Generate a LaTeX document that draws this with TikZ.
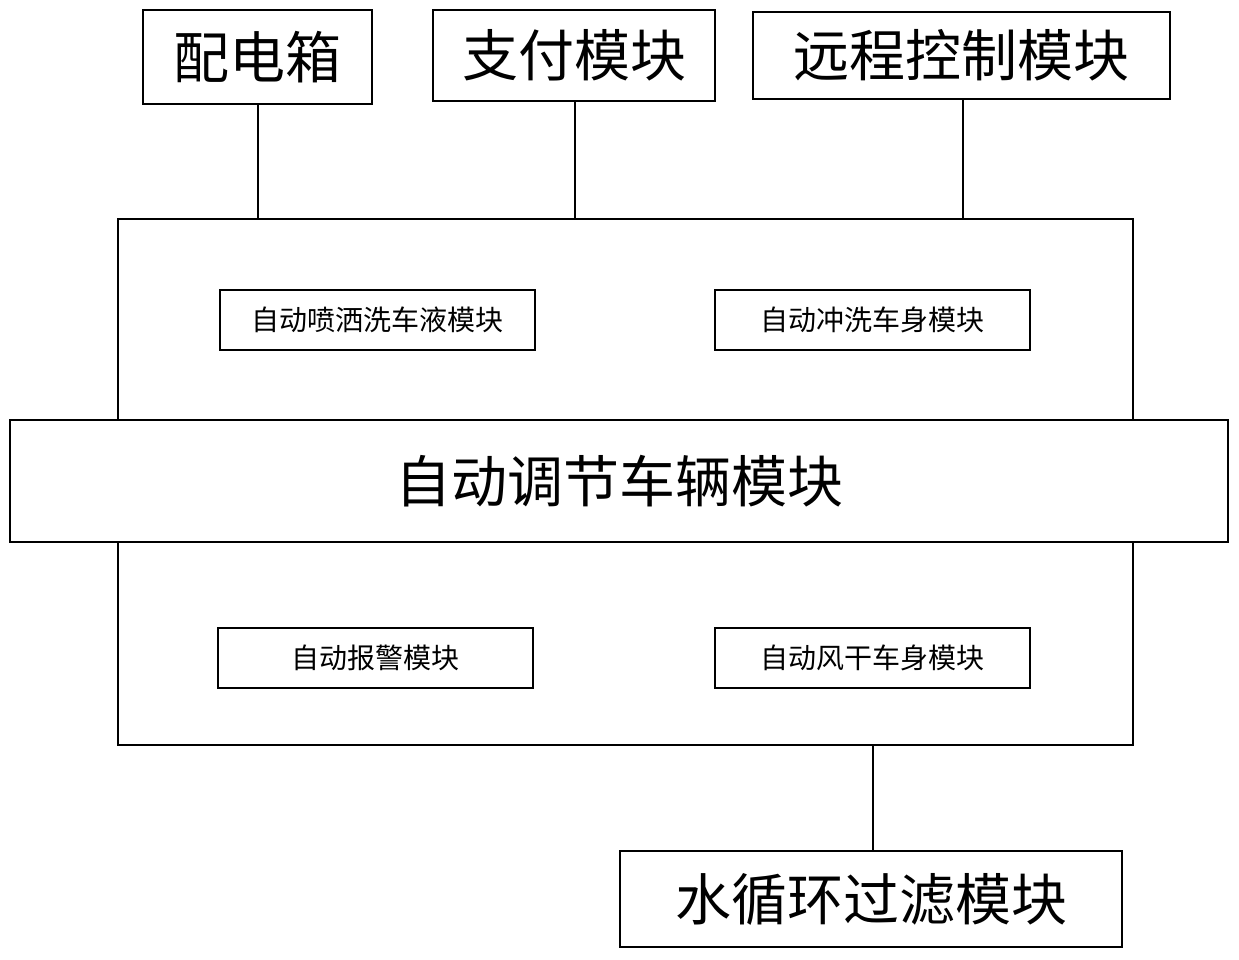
\documentclass[tikz,border=0pt]{standalone}
\usepackage{fontspec}
\newfontfamily\cjk{Noto Sans CJK SC}
\begin{document}
\begin{tikzpicture}[x=1pt,y=-1pt,
 box/.style={draw,line width=1.5pt,fill=white},
 big/.style={font=\cjk\fontsize{56}{60}\selectfont},
 small/.style={font=\cjk\fontsize{28}{32}\selectfont},
 ln/.style={line width=1.5pt}]
\useasboundingbox (0,0) rectangle (1239,959);
\draw[box] (118,219) rectangle (1133,745);
\node[box,big,minimum width=1218pt,minimum height=122pt,inner sep=0pt] (mid) at (619,481) {自动调节车辆模块};
\node[box,big,minimum width=229pt,minimum height=94pt,inner sep=0pt] (pd) at (257.5,57) {配电箱};
\node[box,big,minimum width=282pt,minimum height=91pt,inner sep=0pt] (zf) at (574,55.5) {支付模块};
\node[box,big,minimum width=417pt,minimum height=87pt,inner sep=0pt] (yc) at (961.5,55.5) {远程控制模块};
\node[box,big,minimum width=502pt,minimum height=96pt,inner sep=0pt] (sx) at (871,899) {水循环过滤模块};
\node[box,small,minimum width=315pt,minimum height=60pt,inner sep=0pt] (a) at (377.5,320) {自动喷洒洗车液模块};
\node[box,small,minimum width=315pt,minimum height=60pt,inner sep=0pt] (b) at (872.5,320) {自动冲洗车身模块};
\node[box,small,minimum width=315pt,minimum height=60pt,inner sep=0pt] (c) at (375.5,658) {自动报警模块};
\node[box,small,minimum width=315pt,minimum height=60pt,inner sep=0pt] (d) at (872.5,658) {自动风干车身模块};
\coordinate (t1) at (258,219);
\coordinate (t2) at (575,219);
\coordinate (t3) at (963,219);
\coordinate (t4) at (873,745);
\draw[ln] (pd.south -| t1) -- (t1);
\draw[ln] (zf.south -| t2) -- (t2);
\draw[ln] (yc.south -| t3) -- (t3);
\draw[ln] (t4) -- (sx.north -| t4);
\end{tikzpicture}
\end{document}
